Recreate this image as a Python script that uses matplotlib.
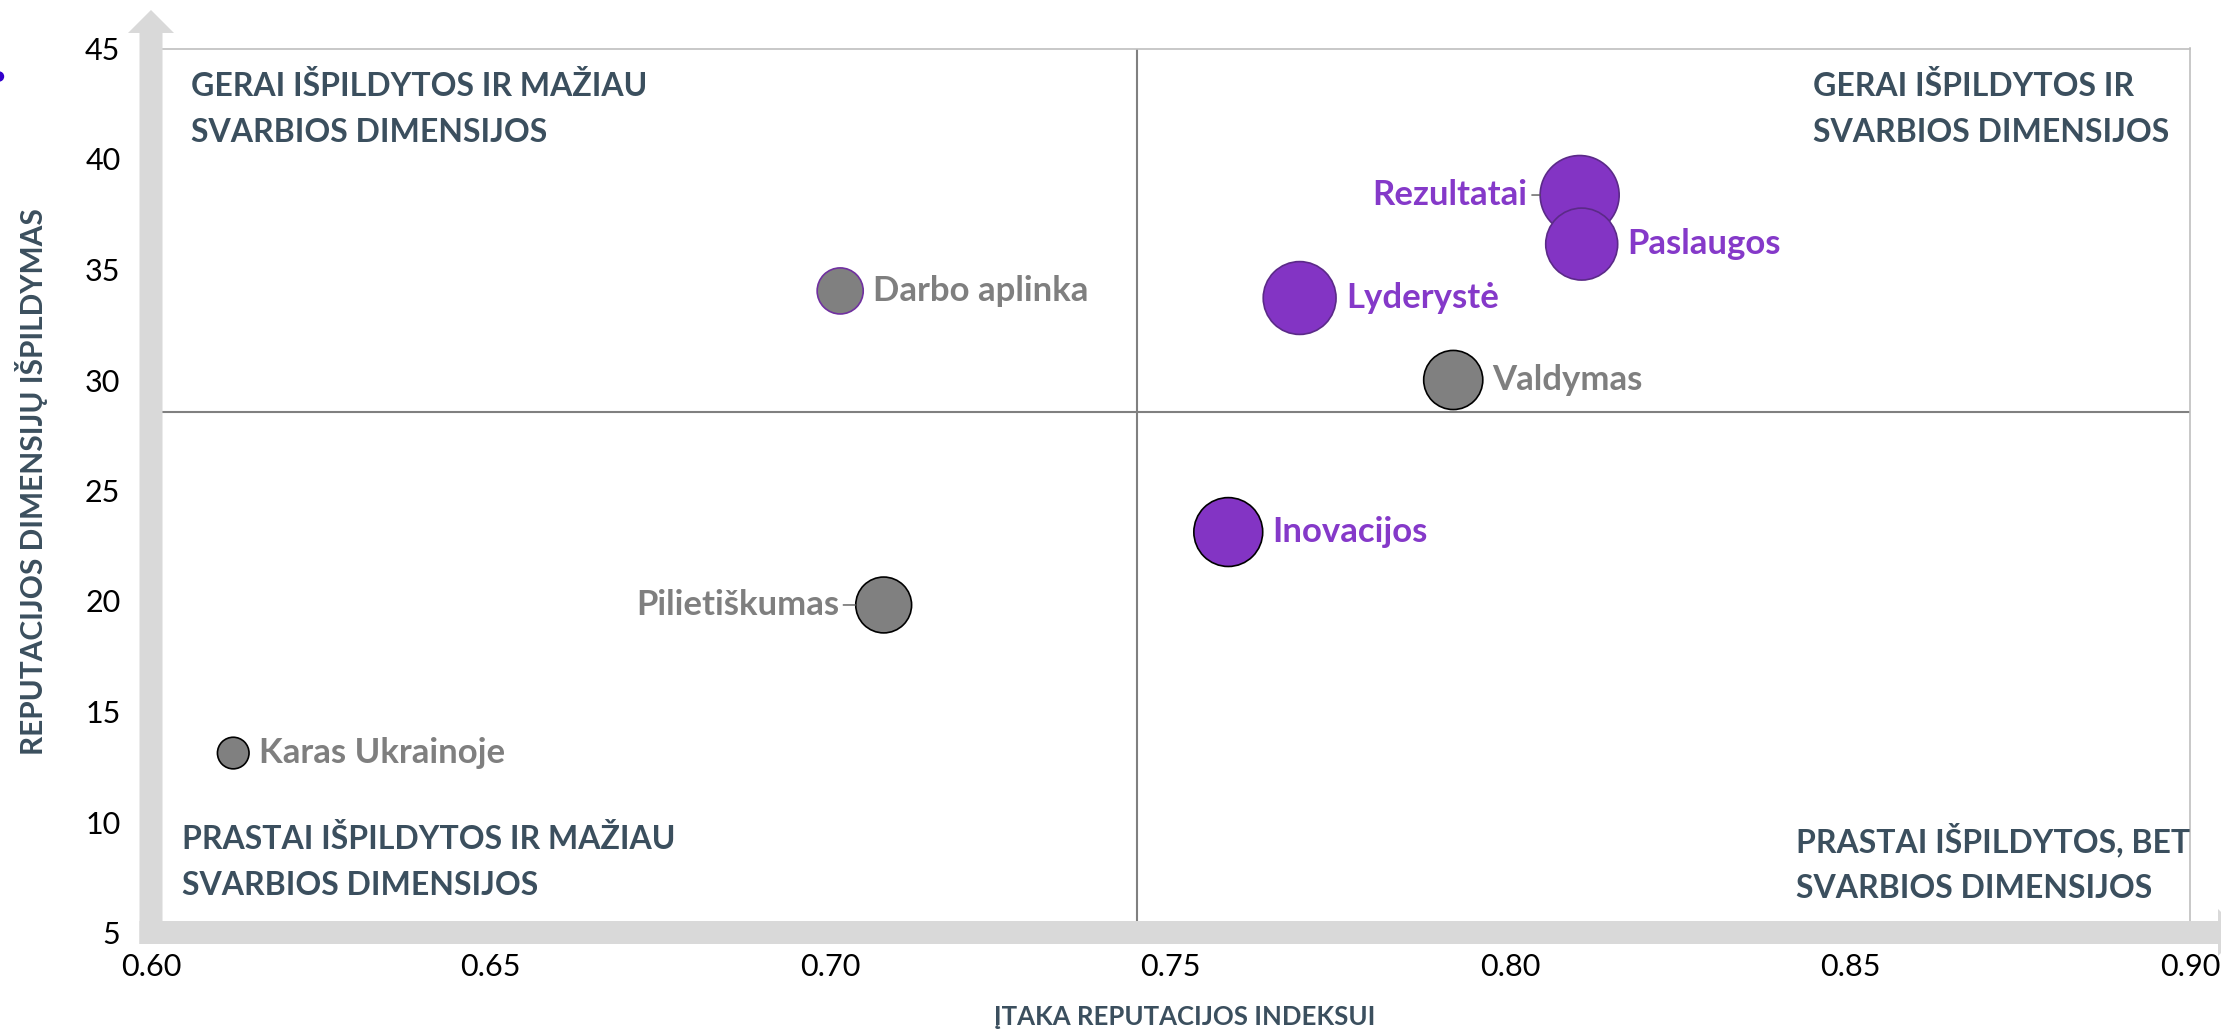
import numpy as np
import matplotlib
matplotlib.use('Agg')
import matplotlib.pyplot as plt
from matplotlib.patches import Polygon, Circle
from matplotlib.transforms import IdentityTransform

# duomenys
names = ['Karas Ukrainoje', 'Pilietiškumas', 'Darbo aplinka', 'Valdymas',
         'Inovacijos', 'Lyderystė', 'Rezultatai', 'Paslaugos']
itaka = [0.6121, 0.7078, 0.7014, 0.7916, 0.7585, 0.7690, 0.8102, 0.8105]
ispildymas = [13.12, 19.82, 34.03, 30.00, 23.12, 33.71, 38.37, 36.15]
dydis = [16, 50, 34, 56, 76, 85, 100, 83]
grupe = ['kita', 'kita', 'kita', 'kita', 'svarbi', 'svarbi', 'svarbi', 'svarbi']

xticks = [0.60, 0.65, 0.70, 0.75, 0.80, 0.85, 0.90]
yticks = [5, 10, 15, 20, 25, 30, 35, 40, 45]

quadrants = ['GERAI IŠPILDYTOS IR MAŽIAU\nSVARBIOS DIMENSIJOS',
             'GERAI IŠPILDYTOS IR\nSVARBIOS DIMENSIJOS',
             'PRASTAI IŠPILDYTOS IR MAŽIAU\nSVARBIOS DIMENSIJOS',
             'PRASTAI IŠPILDYTOS, BET\nSVARBIOS DIMENSIJOS']

PURPLE = '#8334C4'
PURPLE_TXT = '#8539C9'
GREY = '#808080'
GREY_TXT = '#7F7F7F'
SLATE = '#3B4F5E'
BAR = '#D9D9D9'

plt.rcParams['font.family'] = ['Lato', 'DejaVu Sans']

W, H = 2221, 1031
fig = plt.figure(figsize=(W / 100, H / 100), dpi=100)
ax = fig.add_axes([151 / W, 1 - 932.5 / H, 2039 / W, 884 / H])
ax.set_xlim(0.60, 0.90)
ax.set_ylim(5, 45)
ax.set_xticks(xticks)
ax.set_yticks(yticks)
ax.set_xticklabels([f'{v:.2f}' for v in xticks])
ax.tick_params(length=0, labelsize=22, colors='black')
ax.tick_params(axis='x', pad=15)
ax.tick_params(axis='y', pad=22)
for side in ['left', 'bottom']:
    ax.spines[side].set_visible(False)
for side in ['top', 'right']:
    ax.spines[side].set_color('#BFBFBF')
    ax.spines[side].set_linewidth(1.2)

# kvadrantu linijos per vidurkius
ax.axvline(np.mean(itaka), color=GREY, lw=1.5, zorder=1)
ax.axhline(np.mean(ispildymas), color=GREY, lw=1.5, zorder=1)

# burbulai
k = (79 * 0.72) ** 2 / 100
sizes = [d * k for d in dydis]
edge = {'Darbo aplinka': '#7030A0', 'Inovacijos': 'black',
        'Lyderystė': '#5B2A88', 'Rezultatai': '#5B2A88', 'Paslaugos': '#5B2A88'}
face = [PURPLE if g == 'svarbi' else GREY for g in grupe]
edges = [edge.get(n, 'black') for n in names]
ax.scatter(itaka, ispildymas, s=sizes, c=face, edgecolors=edges, linewidths=1.2, zorder=3)

label_left = {'Pilietiškumas': 12, 'Rezultatai': 9}
for n, x, y, s, g in zip(names, itaka, ispildymas, sizes, grupe):
    r = np.sqrt(s) / 2
    col = PURPLE_TXT if g == 'svarbi' else GREY_TXT
    if n in label_left:
        ax.annotate(n, (x, y), xytext=(-(r + label_left[n]), 0), textcoords='offset points',
                    ha='right', va='center', fontsize=25, fontweight='bold', color=col,
                    arrowprops=dict(arrowstyle='-', color='#595959', lw=1,
                                    shrinkA=1, shrinkB=r))
    else:
        ax.annotate(n, (x, y), xytext=(r + 7, 0), textcoords='offset points',
                    ha='left', va='center', fontsize=25, fontweight='bold', color=col)

# kvadrantu pavadinimai
qpos = [(0.0196, 0.932), (0.815, 0.932), (0.0152, 0.080), (0.807, 0.079)]
for t, (qx, qy) in zip(quadrants, qpos):
    ax.text(qx, qy, t, transform=ax.transAxes, ha='left', va='center',
            fontsize=23, fontweight='bold', color=SLATE, linespacing=1.7)

# asiu pavadinimai
fig.text(1185 / W, 1 - 1017 / H, 'ĮTAKA REPUTACIJOS INDEKSUI', ha='center', va='center',
         fontsize=18.5, fontweight='bold', color=SLATE)
fig.text(32 / W, 1 - 482 / H, 'REPUTACIJOS DIMENSIJŲ IŠPILDYMAS', ha='center', va='center',
         rotation=90, fontsize=21.5, fontweight='bold', color=SLATE)

# pilkos rodykles
ox, oy = ax.transData.transform((0.60, 5))
hw = 11.5
vert = [(ox - hw, oy - hw), (ox + hw, oy - hw), (ox + hw, H - 33), (ox + 23, H - 33),
        (ox, H - 10), (ox - 23, H - 33), (ox - hw, H - 33)]
horz = [(ox - hw, oy - hw), (ox - hw, oy + hw), (2218, oy + hw), (2218, oy + 23.5),
        (2242, oy), (2218, oy - 23.5), (2218, oy - hw)]
for pts in (vert, horz):
    fig.add_artist(Polygon(pts, closed=True, facecolor=BAR, edgecolor='none',
                           transform=IdentityTransform(), zorder=0.5))

fig.add_artist(Circle((-1, H - 76.5), 4.5, color='#3300CC', transform=IdentityTransform()))

fig.savefig('out.png', dpi=100)
